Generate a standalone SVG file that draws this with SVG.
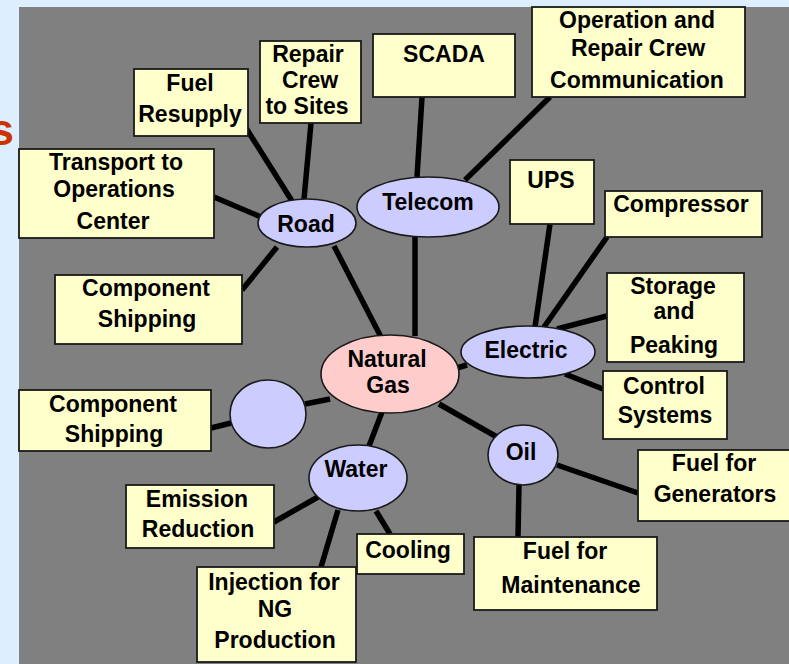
<svg xmlns="http://www.w3.org/2000/svg" width="789" height="664" viewBox="0 0 789 664">
<style>
.bg{fill:#DDEEFF}
.panel{fill:#808080}
.box{fill:#FFFFCC;stroke:#1a1a1a;stroke-width:1.8}
.hub{fill:#CCCCFF;stroke:#1a1a1a;stroke-width:1.6}
.core{fill:#FFCCCC;stroke:#1a1a1a;stroke-width:1.6}
text{font-family:"Liberation Sans",Arial,sans-serif;font-weight:bold;font-size:23px;fill:#000;text-anchor:middle}
.edge{stroke:#000;stroke-width:5.5;stroke-linecap:butt;fill:none}
.title{fill:#CC3300;font-size:44px;text-anchor:end}
</style>
<rect class="bg" x="0" y="0" width="789" height="664"/>
<text class="title" x="14" y="145">s</text>
<rect class="panel" x="19" y="7" width="770" height="657"/>

<g id="connectors">
<line class="edge" x1="246" y1="128" x2="292" y2="201"/>
<line class="edge" x1="311" y1="123" x2="304" y2="199"/>
<line class="edge" x1="214" y1="197" x2="261" y2="217"/>
<line class="edge" x1="242" y1="290" x2="277" y2="247"/>
<line class="edge" x1="334" y1="246" x2="381" y2="337"/>
<line class="edge" x1="422" y1="97" x2="417" y2="177"/>
<line class="edge" x1="550" y1="97" x2="465" y2="180"/>
<line class="edge" x1="415" y1="237" x2="415" y2="336"/>
<line class="edge" x1="550" y1="224" x2="535" y2="327"/>
<line class="edge" x1="607" y1="237" x2="544" y2="327"/>
<line class="edge" x1="607" y1="316" x2="557" y2="329"/>
<line class="edge" x1="603" y1="389" x2="565" y2="374"/>
<line class="edge" x1="457" y1="368" x2="467" y2="365"/>
<line class="edge" x1="439" y1="404" x2="497" y2="437"/>
<line class="edge" x1="557" y1="465" x2="638" y2="493"/>
<line class="edge" x1="519" y1="485" x2="518" y2="537"/>
<line class="edge" x1="382" y1="412" x2="369" y2="446"/>
<line class="edge" x1="318" y1="497" x2="274" y2="522"/>
<line class="edge" x1="338" y1="510" x2="321" y2="567"/>
<line class="edge" x1="376" y1="511" x2="390" y2="534"/>
<line class="edge" x1="305" y1="404" x2="330" y2="399"/>
<line class="edge" x1="211" y1="428" x2="231" y2="423"/>
</g>

<g id="fuel-resupply">
<rect class="box" x="134" y="69" width="114" height="67"/>
<text x="190" y="91">Fuel</text>
<text x="190" y="122">Resupply</text>
</g>
<g id="repair-crew">
<rect class="box" x="260" y="41" width="101" height="82"/>
<text x="308" y="62">Repair</text>
<text x="310" y="88">Crew</text>
<text x="307" y="114">to Sites</text>
</g>
<g id="scada">
<rect class="box" x="373" y="34" width="142" height="63"/>
<text x="444" y="62">SCADA</text>
</g>
<g id="op-repair-comm">
<rect class="box" x="532" y="7" width="213" height="90"/>
<text x="637" y="28">Operation and</text>
<text x="638" y="56">Repair Crew</text>
<text x="637" y="88">Communication</text>
</g>
<g id="transport">
<rect class="box" x="19" y="149" width="195" height="89"/>
<text x="116" y="170">Transport to</text>
<text x="114" y="197">Operations</text>
<text x="113" y="229">Center</text>
</g>
<g id="ups">
<rect class="box" x="510" y="160" width="84" height="64"/>
<text x="551" y="188">UPS</text>
</g>
<g id="compressor">
<rect class="box" x="605" y="191" width="157" height="46"/>
<text x="681" y="212">Compressor</text>
</g>
<g id="storage">
<rect class="box" x="607" y="273" width="137" height="89"/>
<text x="673" y="294">Storage</text>
<text x="674" y="319">and</text>
<text x="674" y="353">Peaking</text>
</g>
<g id="control">
<rect class="box" x="603" y="371" width="124" height="68"/>
<text x="664" y="394">Control</text>
<text x="665" y="423">Systems</text>
</g>
<g id="component-shipping-road">
<rect class="box" x="55" y="275" width="187" height="69"/>
<text x="146" y="296">Component</text>
<text x="147" y="327">Shipping</text>
</g>
<g id="component-shipping-2">
<rect class="box" x="19" y="390" width="192" height="61"/>
<text x="113" y="412">Component</text>
<text x="114" y="442">Shipping</text>
</g>
<g id="fuel-generators">
<rect class="box" x="638" y="450" width="155" height="71"/>
<text x="714" y="471">Fuel for</text>
<text x="715" y="502">Generators</text>
</g>
<g id="fuel-maintenance">
<rect class="box" x="474" y="537" width="183" height="73"/>
<text x="565" y="559">Fuel for</text>
<text x="571" y="593">Maintenance</text>
</g>
<g id="emission">
<rect class="box" x="126" y="485" width="148" height="63"/>
<text x="197" y="507">Emission</text>
<text x="198" y="537">Reduction</text>
</g>
<g id="cooling">
<rect class="box" x="357" y="534" width="107" height="40"/>
<text x="408" y="558">Cooling</text>
</g>
<g id="injection">
<rect class="box" x="197" y="567" width="159" height="95"/>
<text x="274" y="590">Injection for</text>
<text x="275" y="617">NG</text>
<text x="275" y="648">Production</text>
</g>

<g id="road">
<ellipse class="hub" cx="307" cy="223" rx="49" ry="24"/>
<text x="306" y="232">Road</text>
</g>
<g id="telecom">
<ellipse class="hub" cx="428" cy="207" rx="71" ry="30"/>
<text x="428" y="210">Telecom</text>
</g>
<g id="natural-gas">
<ellipse class="core" cx="390" cy="374" rx="69" ry="39"/>
<text x="387" y="367">Natural</text>
<text x="388" y="393">Gas</text>
</g>
<g id="electric">
<ellipse class="hub" cx="528" cy="352" rx="67" ry="26"/>
<text x="526" y="358">Electric</text>
</g>
<g id="oil">
<ellipse class="hub" cx="523" cy="455" rx="35" ry="30"/>
<text x="521" y="460">Oil</text>
</g>
<g id="water">
<ellipse class="hub" cx="358" cy="478" rx="49" ry="33"/>
<text x="356" y="477">Water</text>
</g>
<g id="unnamed">
<ellipse class="hub" cx="268" cy="414" rx="38" ry="34"/>
</g>
</svg>
